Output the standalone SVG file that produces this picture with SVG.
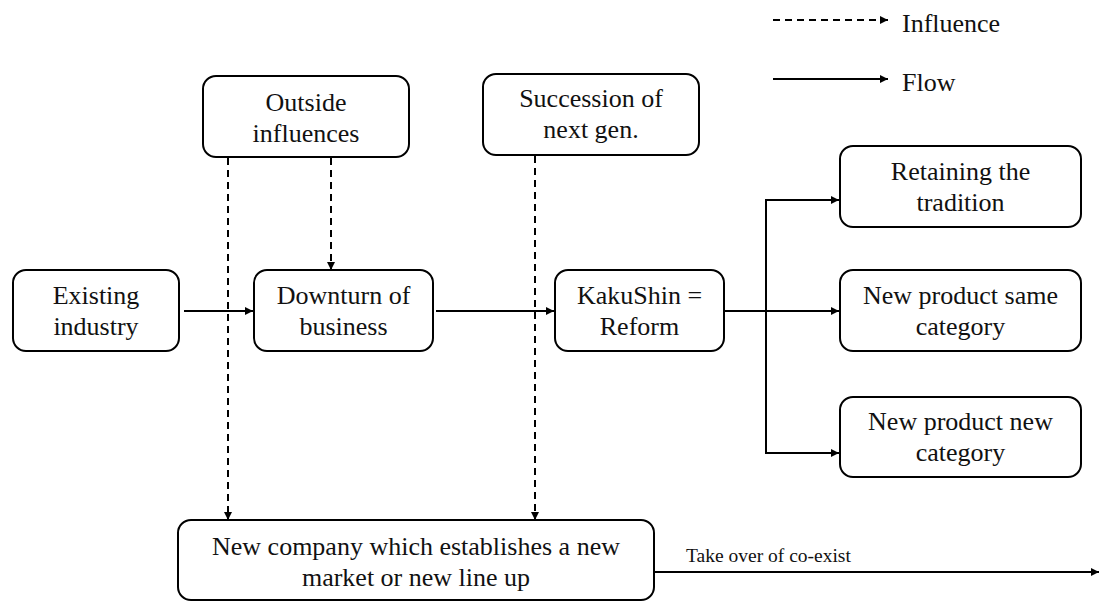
<svg xmlns="http://www.w3.org/2000/svg" width="1099" height="601" viewBox="0 0 1099 601">
  <style>
    .box { fill: #ffffff; stroke: #000000; stroke-width: 2; }
    .lbl { text-anchor: middle; }
    .flow { fill: none; stroke: #000000; stroke-width: 2; }
    .infl { fill: none; stroke: #000000; stroke-width: 2; stroke-dasharray: 7 5; }
  </style>
  <defs>
    <marker id="arrow" viewBox="0 0 10 10" refX="10" refY="5" markerWidth="9" markerHeight="8" markerUnits="userSpaceOnUse" orient="auto">
      <path d="M0,0 L10,5 L0,10 Z" fill="#000000"/>
    </marker>
  </defs>
  <rect width="1099" height="601" fill="#ffffff"/>

  <g font-family="'Times New Roman', 'Liberation Serif', serif" font-size="26" fill="#111111">

  <!-- legend -->
  <g id="legend">
    <line class="infl" x1="773" y1="20" x2="888" y2="20" marker-end="url(#arrow)"/>
    <text x="902" y="32">Influence</text>
    <line class="flow" x1="773" y1="79" x2="888" y2="79" marker-end="url(#arrow)"/>
    <text x="902" y="91">Flow</text>
  </g>

  <!-- connectors -->
  <g id="connectors">
    <line class="flow" x1="184" y1="311" x2="253" y2="311" marker-end="url(#arrow)"/>
    <line class="flow" x1="436" y1="311" x2="554" y2="311" marker-end="url(#arrow)"/>
    <line class="flow" x1="724" y1="311" x2="839" y2="311" marker-end="url(#arrow)"/>
    <polyline class="flow" points="766,311 766,200 839,200" marker-end="url(#arrow)"/>
    <polyline class="flow" points="766,311 766,453 839,453" marker-end="url(#arrow)"/>
    <line class="flow" x1="654" y1="572" x2="1099" y2="572" marker-end="url(#arrow)"/>
    <text x="686" y="562" font-size="19.5">Take over of co-exist</text>
    <line class="infl" x1="331" y1="158" x2="331" y2="270" marker-end="url(#arrow)"/>
    <line class="infl" x1="228" y1="158" x2="228" y2="520" marker-end="url(#arrow)"/>
    <line class="infl" x1="535" y1="156" x2="535" y2="520" marker-end="url(#arrow)"/>
  </g>

  <g id="outside-influences">
    <rect class="box" x="203" y="76" width="206" height="81" rx="13"/>
    <text class="lbl" x="306" y="111">Outside</text>
    <text class="lbl" x="306" y="142">influences</text>
  </g>

  <g id="succession">
    <rect class="box" x="483" y="74" width="216" height="81" rx="13"/>
    <text class="lbl" x="591" y="107">Succession of</text>
    <text class="lbl" x="591" y="138">next gen.</text>
  </g>

  <g id="existing-industry">
    <rect class="box" x="13" y="270" width="166" height="81" rx="13"/>
    <text class="lbl" x="96" y="304">Existing</text>
    <text class="lbl" x="96" y="335">industry</text>
  </g>

  <g id="downturn">
    <rect class="box" x="254" y="270" width="179" height="81" rx="13"/>
    <text class="lbl" x="343.5" y="304">Downturn of</text>
    <text class="lbl" x="343.5" y="335">business</text>
  </g>

  <g id="kakushin">
    <rect class="box" x="555" y="270" width="169" height="81" rx="13"/>
    <text class="lbl" x="639.5" y="304">KakuShin =</text>
    <text class="lbl" x="639.5" y="335">Reform</text>
  </g>

  <g id="retaining">
    <rect class="box" x="840" y="146" width="241" height="81" rx="13"/>
    <text class="lbl" x="960.5" y="180">Retaining the</text>
    <text class="lbl" x="960.5" y="211">tradition</text>
  </g>

  <g id="new-product-same">
    <rect class="box" x="840" y="270" width="241" height="81" rx="13"/>
    <text class="lbl" x="960.5" y="304">New product same</text>
    <text class="lbl" x="960.5" y="335">category</text>
  </g>

  <g id="new-product-new">
    <rect class="box" x="840" y="397" width="241" height="80" rx="13"/>
    <text class="lbl" x="960.5" y="430">New product new</text>
    <text class="lbl" x="960.5" y="461">category</text>
  </g>

  <g id="new-company">
    <rect class="box" x="178" y="520" width="476" height="80" rx="13"/>
    <text class="lbl" x="416" y="555">New company which establishes a new</text>
    <text class="lbl" x="416" y="586">market or new line up</text>
  </g>

  </g>
</svg>
